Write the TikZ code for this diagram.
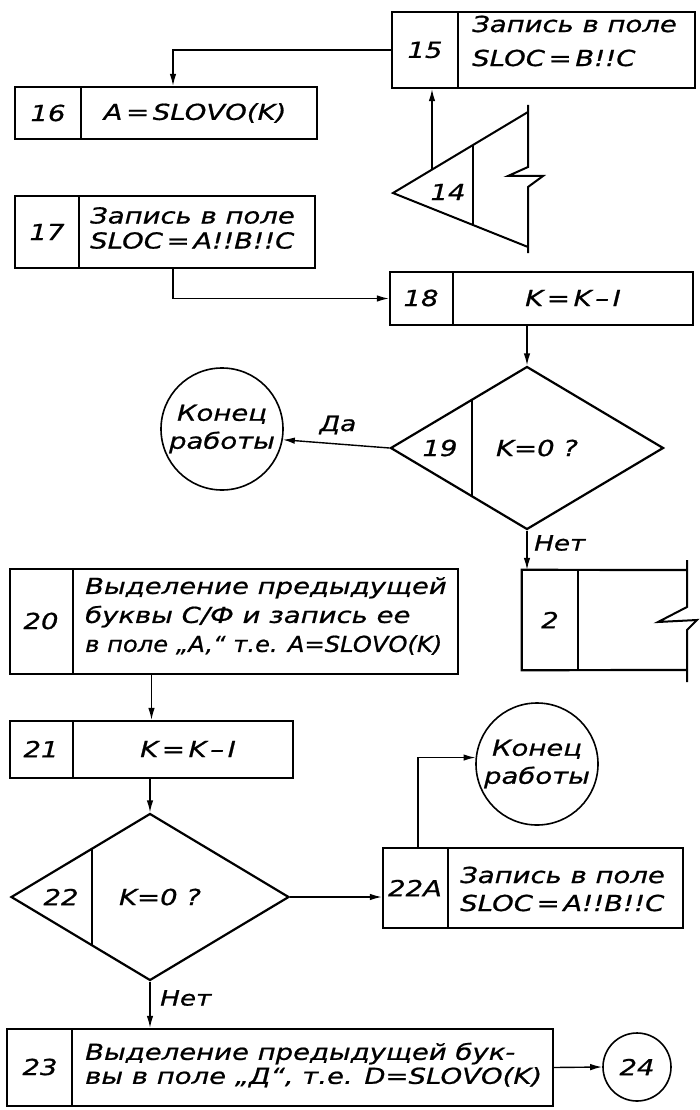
\documentclass[tikz,border=0pt]{standalone}
\usepackage{fontspec}
\setmainfont{DejaVu Sans}[FakeStretch=1.25,ItalicFeatures={FakeBold=0.8}]
\usetikzlibrary{shapes.geometric,arrows.meta}
\begin{document}
\begin{tikzpicture}[x=1pt,y=-1pt,
  box/.style={draw,line width=2.2pt,inner sep=0pt},
  brk/.style={line width=2pt,line join=miter},
  div/.style={line width=1.4pt},
  conn/.style={line width=1.4pt},
  arr/.style={conn,-{Latex[length=12pt,width=6.5pt]}},
  txt/.style={font=\itshape\fontsize{22}{#1}\selectfont,inner sep=0pt,align=left},
  txt/.default=26,
  num/.style={font=\itshape\fontsize{22}{24}\selectfont,inner sep=0pt},
  lab/.style={font=\itshape\fontsize{21}{24}\selectfont,inner sep=0pt},
  term/.style={circle,draw,line width=1.6pt,minimum size=122pt,inner sep=0pt,align=center,font=\itshape\fontsize{22}{28}\selectfont},
  dec/.style={diamond,draw,line width=2.2pt,inner sep=0pt}
]
\useasboundingbox (0,0) rectangle (699,1110);

% 15
\node[box,minimum width=303pt,minimum height=76pt] (b15) at (543.5,50) {};
\draw[div] (458,12) -- (458,88);
\node[num] (n15) at (425,50) {15};
\node[txt=34,anchor=west] (t15) at (472,41) {Запись в поле\\SLOC\,=\,B!!C};

% 14
\coordinate (c14) at (432,169.6);
\draw[brk] (528,112) -- (393,193) -- (528,247);
\draw[brk] (528,105) -- (528,167) -- (508,176) -- (543,176) -- (528,187) -- (528,253);
\draw[div] (473,145) -- (473,225);
\node[num] (n14) at (448,192) {14};
\draw[arr] (c14) -- (c14 |- b15.south);

% 16
\node[box,minimum width=302pt,minimum height=52pt] (b16) at (166,113) {};
\draw[div] (81,87) -- (81,139);
\node[num] (n16) at (48,113) {16};
\node[txt] (t16) at (195,113) {A\,=\,SLOVO(K)};
\draw[arr] (b15.west) -| ([xshift=7pt]b16.north);

% 17
\node[box,minimum width=300pt,minimum height=72pt] (b17) at (165,232) {};
\draw[div] (79,196) -- (79,268);
\node[num] (n17) at (47,232) {17};
\node[txt=25,anchor=west] (t17) at (90,228) {Запись в поле\\SLOC\,=\,A!!B!!C};

% 18
\node[box,minimum width=303pt,minimum height=53pt] (b18) at (541.5,298.5) {};
\draw[div] (453,272) -- (453,325);
\node[num] (n18) at (421,298) {18};
\node[txt] (t18) at (573,298) {K\,=\,K\,–\,I};
\draw[arr] ([xshift=8pt]b17.south) |- (b18.west);

% 19
\node[dec,minimum width=273pt,minimum height=163pt] (d19) at (527,448) {};
\draw[div] (472,400) -- (472,497);
\node[num] (n19) at (440,448) {19};
\node[txt] (t19) at (537,448) {K=0 ?};
\draw[arr] (b18.south -| d19.north) -- (d19.north);

% end 1
\node[term] (e1) at (222,429) {Конец\\работы};
\draw[arr] (d19.west) -- (e1.-10);
\node[lab] (l19y) at (338,425) {Да};

% 2
\node[minimum width=165pt,minimum height=100pt,inner sep=0pt] (b2) at (604.5,620) {};
\draw[box] (687,570) -- (b2.north west) -- (b2.south west) -- (687,670);
\draw[brk] (687,560) -- (687,607) -- (658,622) -- (697,620) -- (687,630) -- (687,682);
\draw[div] (578,570) -- (578,670);
\node[num] (n2) at (550,620) {2};
\draw[arr] (d19.south) -- (d19.south |- b2.north);
\node[lab,anchor=west] (l19n) at (534,543) {Нет};

% 20
\node[box,minimum width=448pt,minimum height=105pt] (b20) at (234,621.5) {};
\draw[div] (73,569) -- (73,674);
\node[num] (n20) at (41,621) {20};
\node[txt=29,anchor=west] (t20) at (85,616) {Выделение предыдущей\\буквы С/Ф и запись ее\\\scalebox{0.88}[1]{в поле „A,“ т.е. A=SLOVO(K)}};

% 21
\node[box,minimum width=283pt,minimum height=57pt] (b21) at (151.5,749.5) {};
\draw[div] (73,721) -- (73,778);
\node[num] (n21) at (41,749) {21};
\node[txt] (t21) at (188,749) {K\,=\,K\,–\,I};
\draw[arr] (b21.north |- b20.south) -- (b21.north);

% 22
\node[dec,minimum width=278pt,minimum height=167pt] (d22) at (150,897) {};
\draw[div] (92,848.5) -- (92,945);
\node[num] (n22) at (61,897) {22};
\node[txt] (t22) at (160,897) {K=0 ?};
\draw[arr] (b21.south -| d22.north) -- (d22.north);

% 22A
\node[box,minimum width=300pt,minimum height=80pt] (b22a) at (533,888) {};
\draw[div] (448,848) -- (448,928);
\node[num] (n22a) at (415,888) {22A};
\node[txt=28,anchor=west] (t22a) at (460,889) {Запись в поле\\SLOC\,=\,A!!B!!C};
\draw[arr] (d22.east) -- (d22.east -| b22a.west);

% end 2
\node[term] (e2) at (537,764) {Конец\\работы};
\draw[arr] ([xshift=-115pt]b22a.north) |- (e2.174);

% 23
\node[box,minimum width=546pt,minimum height=77pt] (b23) at (280,1067.5) {};
\draw[div] (72,1029) -- (72,1106);
\node[num] (n23) at (40,1067) {23};
\node[txt=24,anchor=west] (t23) at (85,1065) {Выделение предыдущей бук-\\вы в поле „Д“, т.е. D=SLOVO(K)};
\draw[arr] (d22.south) -- (d22.south |- b23.north);
\node[lab,anchor=west] (l22n) at (160,998) {Нет};

% 24
\node[term,minimum size=68pt] (c24) at (637,1067) {24};
\draw[arr] (b23.east) -- (c24.west);
\end{tikzpicture}
\end{document}
